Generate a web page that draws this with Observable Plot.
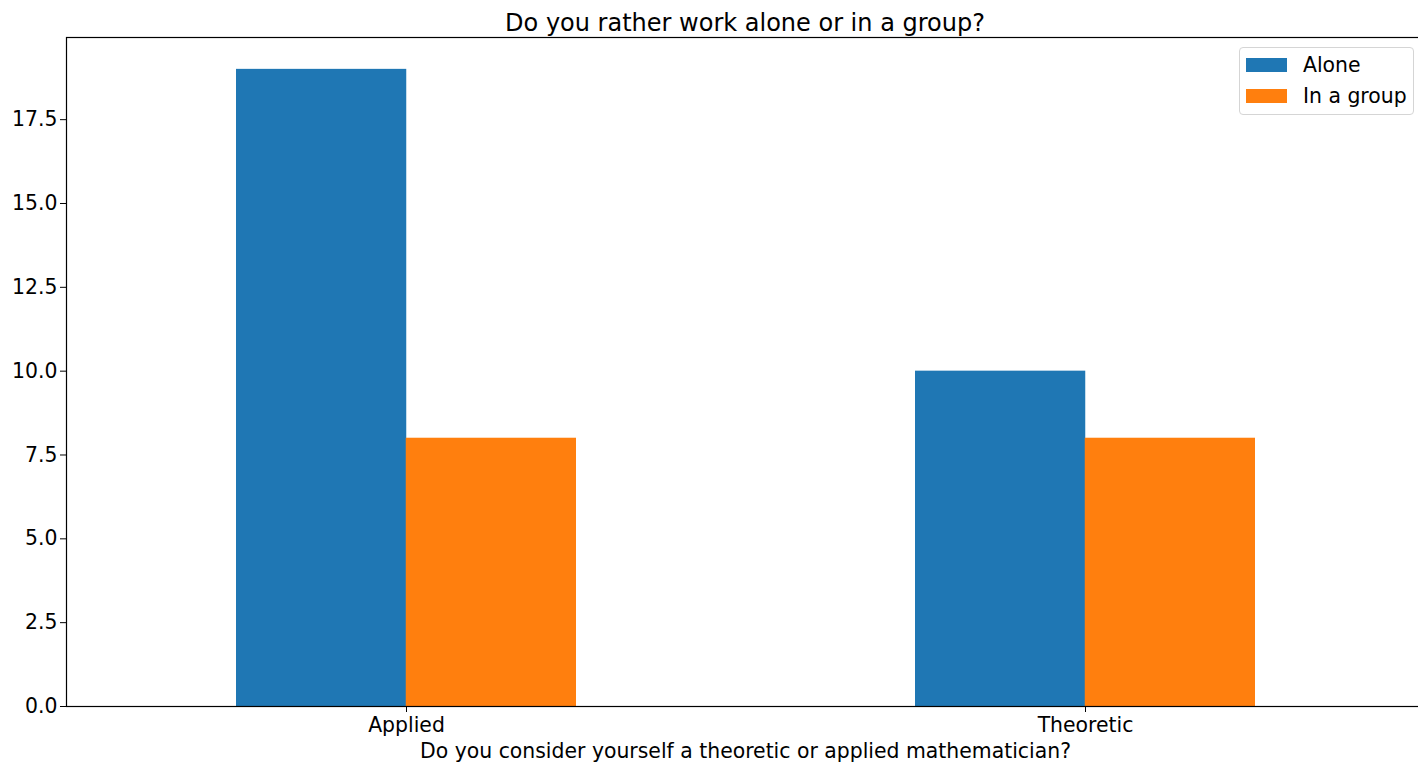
<!DOCTYPE html>
<html><head><meta charset="utf-8">
<script src="https://cdn.jsdelivr.net/npm/d3@7"></script>
<script src="https://cdn.jsdelivr.net/npm/@observablehq/plot@0.6"></script>
<style>
html,body{margin:0;padding:0;background:#fff;overflow:hidden;width:1418px;height:763px;}
#wrap{position:relative;width:1418px;height:763px;overflow:hidden;font-family:"DejaVu Sans",sans-serif;color:#000;}
#title{position:absolute;left:0;top:9px;width:1490px;text-align:center;font-size:24px;line-height:28px;}
#chart{position:absolute;left:0;top:32px;width:1424px;}
#chart svg{max-width:none !important;}
#legend{position:absolute;left:1239px;top:47px;width:175px;height:68px;box-sizing:border-box;border:1px solid #d5d5d5;border-radius:4px;background:rgba(255,255,255,0.8);font-size:20.4px;}
.item{position:absolute;left:6px;height:24px;display:flex;align-items:center;}
.sw{width:41px;height:14px;margin-right:16px;}
</style></head>
<body><div id="wrap"><div id="title"></div><div id="chart"></div><div id="legend"></div></div>
<script>
const categories = ["Applied", "Theoretic"];
const series = ["Alone", "In a group"];
const aloneValues = [19, 10];
const groupValues = [8, 8];
const yTicks = [0, 2.5, 5, 7.5, 10, 12.5, 15, 17.5];
const colors = ["#1f77b4", "#ff7f0e"];
const titleText = "Do you rather work alone or in a group?";
const xLabel = "Do you consider yourself a theoretic or applied mathematician?";

const rows = [];
categories.forEach((c, i) => {
  rows.push({category: c, series: series[0], value: aloneValues[i]});
  rows.push({category: c, series: series[1], value: groupValues[i]});
});

const W = 1424, H = 731, ml = 66, mr = 0, mt = 5, mb = 57;
const band = d3.scaleBand().domain(categories).range([ml, W - mr]).paddingInner(0.5).paddingOuter(0.25);
const half = band.bandwidth() / 2;

const plot = Plot.plot({
  width: W, height: H,
  marginLeft: ml, marginRight: mr, marginTop: mt, marginBottom: mb,
  style: {fontFamily: "DejaVu Sans, sans-serif", fontSize: "20.4px", color: "#000", background: "transparent", maxWidth: "none"},
  x: {type: "band", domain: categories, paddingInner: 0.5, paddingOuter: 0.25, axis: null},
  y: {domain: [0, 19.95], axis: null},
  color: {domain: series, range: colors},
  marks: [
    Plot.barY(rows.filter(d => d.series === series[0]), {x: "category", y: "value", fill: "series", insetRight: half}),
    Plot.barY(rows.filter(d => d.series === series[1]), {x: "category", y: "value", fill: "series", insetLeft: half}),
    Plot.axisY({ticks: yTicks, tickFormat: d3.format(".1f"), tickSize: 6, tickPadding: 3, fontSize: 20.4, label: null, stroke: "#000"}),
    Plot.axisX({tickSize: 6, tickPadding: 5, fontSize: 20.4, label: xLabel, labelAnchor: "center", labelOffset: 51, stroke: "#000"}),
    Plot.frame({stroke: "#000", strokeWidth: 1.2})
  ]
});
document.getElementById("chart").appendChild(plot);
document.getElementById("title").textContent = titleText;

const leg = document.getElementById("legend");
series.forEach((s, i) => {
  const it = document.createElement("div");
  it.className = "item";
  it.style.top = (5 + i * 30.5) + "px";
  it.innerHTML = `<div class="sw" style="background:${colors[i]}"></div><span>${s}</span>`;
  leg.appendChild(it);
});
</script></body></html>
